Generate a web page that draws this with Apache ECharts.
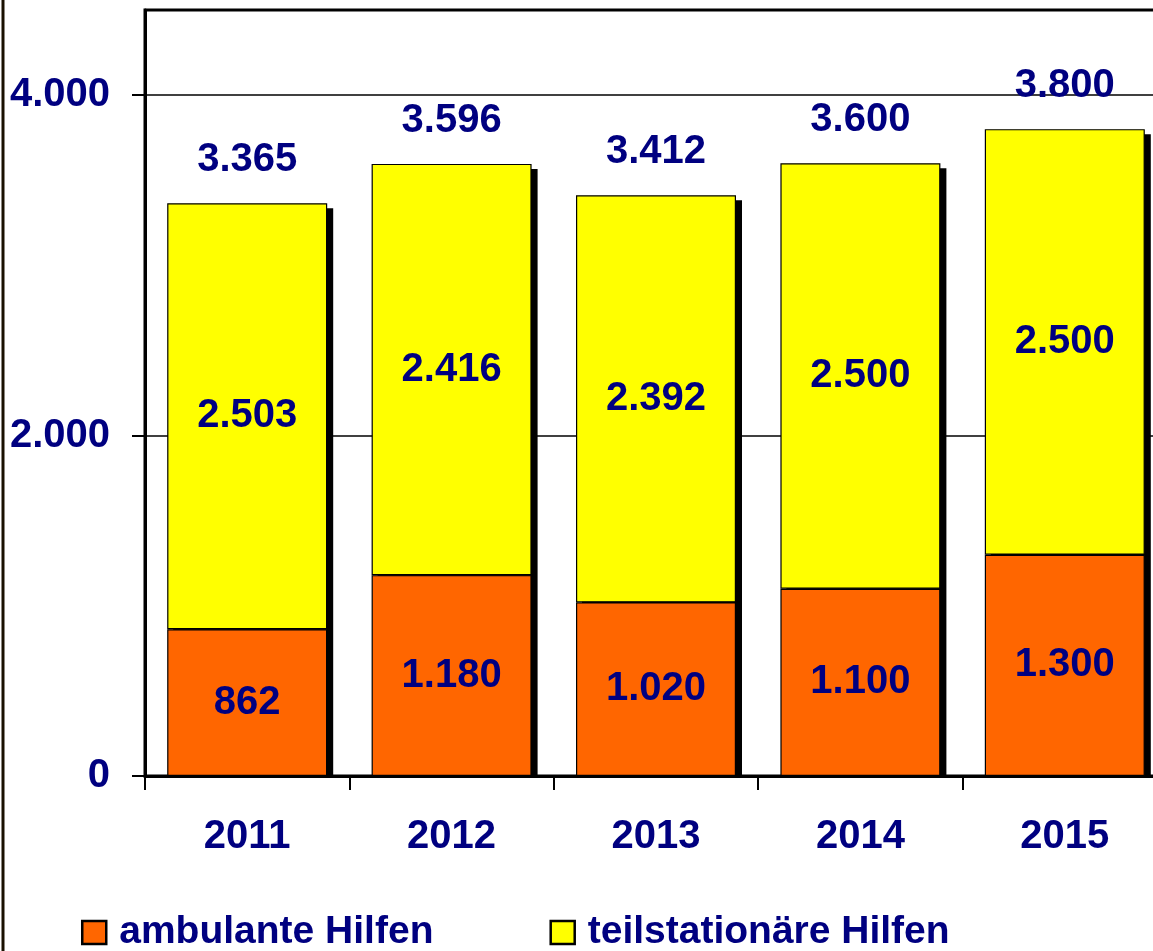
<!DOCTYPE html>
<html lang="de">
<head>
<meta charset="UTF-8">
<title>Hilfen 2011-2015</title>
<script src="https://cdn.jsdelivr.net/npm/echarts@6.0.0/dist/echarts.min.js"></script>
<style>
  html, body { margin: 0; padding: 0; background: #fff; }
</style>
</head>
<body>
<div id="main" style="width:1153px;height:951px;"></div>
<script>
// data
const years = ['2011', '2012', '2013', '2014', '2015'];
const ambulant = [862, 1180, 1020, 1100, 1300];
const teilstationaer = [2503, 2416, 2392, 2500, 2500];
const totals = [3365, 3596, 3412, 3600, 3800];
const yTicks = [0, 2000, 4000];

const navy = '#000080';
const font = '"Liberation Sans", Arial, sans-serif';
const BAR_W = 160;

// German thousands separator: 3365 -> 3.365
function fmt(v) {
  if (v < 1000) return String(v);
  return Math.floor(v / 1000) + '.' + String(v % 1000).padStart(3, '0');
}

const chart = echarts.init(document.getElementById('main'));

const labelStyle = {
  show: true,
  color: navy,
  fontFamily: font,
  fontWeight: 'bold',
  fontSize: 40
};

// drop shadow behind each stacked column plus the total above it
function renderTotal(params, api) {
  const idx = api.value(0);
  const total = api.value(1);
  const top = api.coord([idx, total]);
  const base = api.coord([idx, 0]);
  return {
    type: 'group',
    children: [
      {
        type: 'rect',
        shape: { x: top[0] - BAR_W / 2 + 6, y: top[1] + 5, width: BAR_W, height: base[1] - top[1] - 5 },
        style: { fill: '#000' }
      },
      {
        type: 'text',
        x: top[0], y: top[1] - 43,
        style: {
          text: fmt(total), fill: navy,
          font: 'bold 40px ' + font,
          align: 'center', verticalAlign: 'middle'
        }
      }
    ]
  };
}

chart.setOption({
  animation: false,
  textStyle: { fontFamily: font },
  grid: {
    left: 145, top: 10, width: 1022, height: 766,
    outerBoundsMode: 'none',
    containLabel: false,
    show: true, borderColor: '#000', borderWidth: 3,
    backgroundColor: 'transparent'
  },
  legend: {
    left: 81, top: 913,
    padding: 0,
    itemWidth: 24, itemHeight: 23, itemGap: 116,
    icon: 'rect',
    itemStyle: { borderColor: '#000', borderWidth: 2.5 },
    textStyle: {
      color: navy, fontFamily: font, fontWeight: 'bold', fontSize: 39,
      padding: [0, 0, 0, 8]
    },
    data: ['ambulante Hilfen', 'teilstationäre Hilfen']
  },
  xAxis: {
    type: 'category',
    data: years,
    axisLine: { lineStyle: { color: '#000', width: 3 } },
    axisTick: { show: true, length: 14, lineStyle: { color: '#000', width: 2 } },
    axisLabel: {
      color: navy, fontFamily: font, fontWeight: 'bold', fontSize: 40, margin: 41
    }
  },
  yAxis: {
    type: 'value',
    min: 0, max: 4500, interval: 2000,
    axisLine: { show: true, lineStyle: { color: '#000', width: 3 } },
    axisTick: { show: true, length: 13, customValues: yTicks, lineStyle: { color: '#000', width: 2 } },
    axisLabel: {
      customValues: yTicks,
      color: navy, fontFamily: font, fontWeight: 'bold', fontSize: 40, margin: 35,
      formatter: v => fmt(v)
    },
    splitLine: { show: true, lineStyle: { color: '#000', width: 1.5 } }
  },
  graphic: [{
    type: 'line',
    shape: { x1: 3, y1: 0, x2: 3, y2: 951 },
    style: { stroke: '#1a1000', lineWidth: 3 }
  }],
  series: [
    {
      name: 'Summe',
      type: 'custom',
      z: 1,
      renderItem: renderTotal,
      data: totals.map((t, i) => [i, t]),
      tooltip: { show: false }
    },
    {
      name: 'ambulante Hilfen',
      type: 'bar',
      stack: 'h',
      z: 3,
      barWidth: BAR_W,
      data: ambulant,
      itemStyle: { color: '#FF6600', borderColor: '#000', borderWidth: 1.2 },
      label: Object.assign({ position: 'inside', formatter: p => fmt(p.value) }, labelStyle)
    },
    {
      name: 'teilstationäre Hilfen',
      type: 'bar',
      stack: 'h',
      z: 2,
      barWidth: BAR_W,
      data: teilstationaer,
      itemStyle: { color: '#FFFF00', borderColor: '#000', borderWidth: 1.2 },
      label: Object.assign({ position: 'inside', formatter: p => fmt(p.value) }, labelStyle)
    }
  ]
});
</script>
</body>
</html>
